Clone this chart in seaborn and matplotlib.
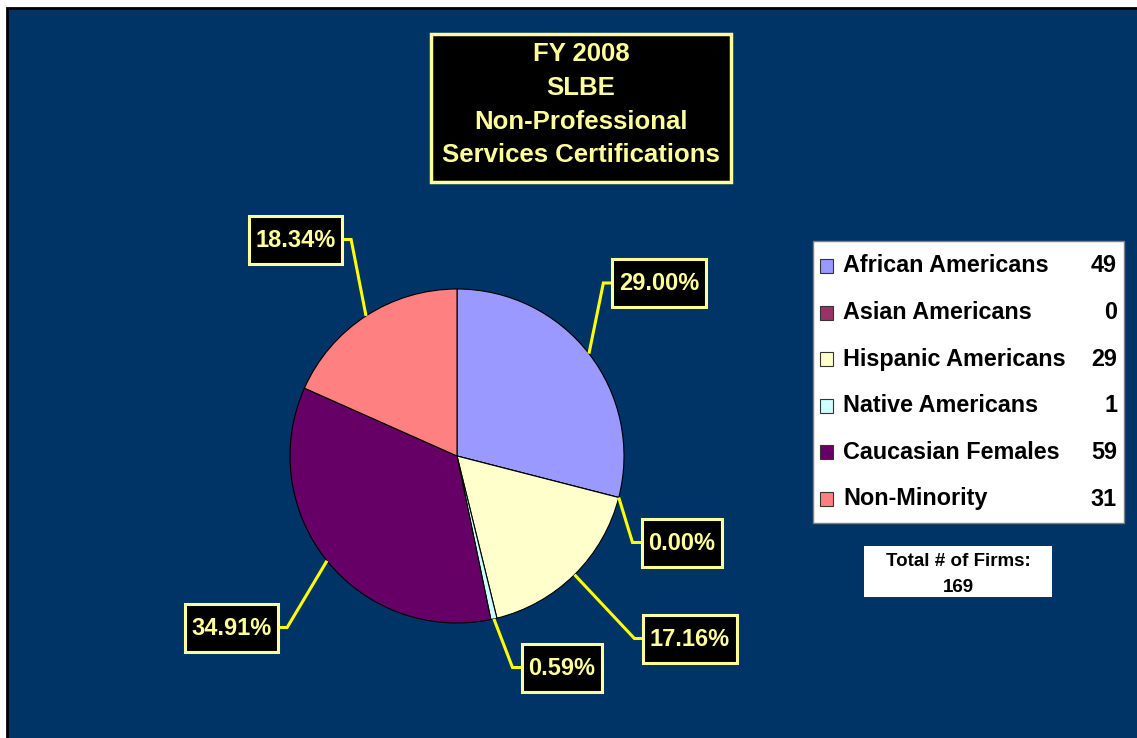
import numpy as np
import matplotlib
matplotlib.use("Agg")
import matplotlib.pyplot as plt
from matplotlib.patches import Rectangle
import seaborn as sns

# ---- data ----
groups = ["African Americans", "Asian Americans", "Hispanic Americans",
          "Native Americans", "Caucasian Females", "Non-Minority"]
firm_counts = [49, 0, 29, 1, 59, 31]
share_pct = [29.00, 0.00, 17.16, 0.59, 34.91, 18.34]
total_firms = 169
title_lines = ["FY 2008", "SLBE", "Non-Professional", "Services Certifications"]
slice_colors = ["#9999FF", "#993366", "#FFFFCC", "#CCFFFF", "#660066", "#FF8080"]

# ---- styling / layout (pixel units, origin top-left) ----
W, H = 1137, 738
NAVY = "#003366"
PALE = "#FFFF99"
LEADER = "#FFFF00"
PIE_CX, PIE_CY, PIE_R = 457, 456, 167
label_centers = [(659, 283), (681.5, 542.5), (690, 638.5),
                 (561.5, 667.5), (231.5, 627.5), (295.5, 239.5)]

sns.set_theme(style="white")
plt.rcParams["font.family"] = ["Liberation Sans", "DejaVu Sans"]
plt.rcParams["font.weight"] = "bold"
palette = sns.color_palette(slice_colors)

fig = plt.figure(figsize=(W / 100, H / 100), dpi=100)
fig.patch.set_facecolor("white")

# background panel
bg = fig.add_axes([0, 0, 1, 1])
bg.set_xlim(0, W)
bg.set_ylim(H, 0)
bg.axis("off")
bg.add_patch(Rectangle((7, 8), W + 10, H + 10, facecolor=NAVY, edgecolor="black", lw=2))

# pie
pie_ax = fig.add_axes([(PIE_CX - PIE_R) / W, 1 - (PIE_CY + PIE_R) / H,
                       2 * PIE_R / W, 2 * PIE_R / H])
wedges, _ = pie_ax.pie(share_pct, colors=palette, startangle=90, counterclock=False,
                       radius=1, wedgeprops=dict(edgecolor="black", linewidth=0.8))
pie_ax.set_xlim(-1, 1)
pie_ax.set_ylim(-1, 1)
pie_ax.set_aspect("equal")
pie_ax.axis("off")
for w in wedges:
    w.set_clip_on(False)

# overlay for annotations
ov = fig.add_axes([0, 0, 1, 1])
ov.set_xlim(0, W)
ov.set_ylim(H, 0)
ov.axis("off")
ov.patch.set_alpha(0)

# title block
ov.add_patch(Rectangle((431, 34), 300, 148, facecolor="black", edgecolor=PALE,
                       lw=2.5, zorder=4))
for y, line in zip([54, 88, 122, 155], title_lines):
    ov.text(581, y, line, ha="center", va="center", fontsize=18.5,
            color=PALE, fontweight="bold", zorder=5)

# percentage labels with leader lines
renderer = fig.canvas.get_renderer()
inv = ov.transData.inverted()
for w, pct, (lx, ly) in zip(wedges, share_pct, label_centers):
    t = ov.text(lx, ly + 1, f"{pct:.2f}%", ha="center", va="center", fontsize=17,
                color=PALE, fontweight="bold", zorder=6)
    tw = t.get_window_extent(renderer).width
    bw, bh = tw + 13, 48
    ov.add_patch(Rectangle((lx - bw / 2, ly - bh / 2), bw, bh, facecolor="black",
                           edgecolor=PALE, lw=2.2, zorder=5))
    mid = np.deg2rad((w.theta1 + w.theta2) / 2)
    ex, ey = inv.transform(pie_ax.transData.transform((np.cos(mid), np.sin(mid))))
    if lx > PIE_CX:
        attach_x = lx - bw / 2
        knee_x = attach_x - 9
    else:
        attach_x = lx + bw / 2
        knee_x = attach_x + 9
    ov.plot([ex, knee_x, attach_x], [ey, ly, ly], color=LEADER, lw=2.2,
            solid_joinstyle="miter", solid_capstyle="butt", zorder=3)

# legend
ov.add_patch(Rectangle((813, 241), 311, 282, facecolor="white", edgecolor="#808080",
                       lw=1, zorder=4))
for i, (name, cnt, col) in enumerate(zip(groups, firm_counts, palette)):
    y = 266 + i * 46.6
    ov.add_patch(Rectangle((820, y - 7), 13, 14, facecolor=col, edgecolor="#333333",
                           lw=0.8, zorder=5))
    ov.text(843, y, name, ha="left", va="center", fontsize=16.8, color="black",
            fontweight="bold", zorder=5)
    ov.text(1117, y, str(cnt), ha="right", va="center", fontsize=16.8, color="black",
            fontweight="bold", zorder=5)

# total firms box
ov.add_patch(Rectangle((864, 546), 188, 51, facecolor="white", edgecolor="none", zorder=4))
ov.text(958, 561, "Total # of Firms:", ha="center", va="center", fontsize=13.5,
        color="black", fontweight="bold", zorder=5)
ov.text(958, 587, str(total_firms), ha="center", va="center", fontsize=13.5,
        color="black", fontweight="bold", zorder=5)

fig.savefig("out.png", dpi=100)
